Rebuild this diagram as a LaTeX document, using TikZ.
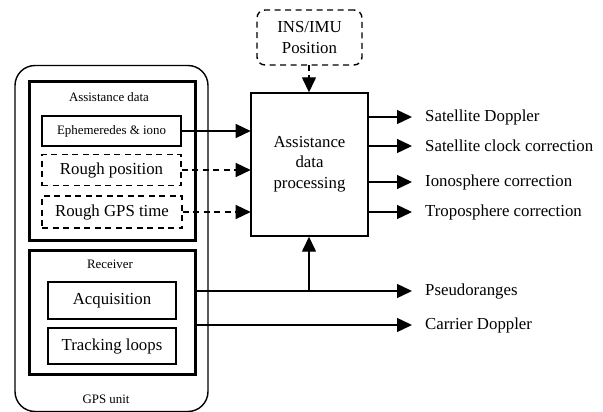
\documentclass[tikz,border=0pt]{standalone}
\usepackage{fontspec}
\setmainfont{Liberation Serif}
\usetikzlibrary{arrows.meta}
\tikzset{
  bigtxt/.style={font=\fontsize{16.8pt}{20.5pt}\selectfont},
  smalltxt/.style={font=\fontsize{12.9pt}{15pt}\selectfont},
  thin box/.style={draw, line width=1.4pt, inner sep=0pt},
  thick box/.style={draw, line width=3pt, inner sep=0pt},
  dash box/.style={draw, line width=1.4pt, dash pattern=on 6pt off 4.5pt, inner sep=0pt},
  conn/.style={line width=1.4pt, -{Triangle[length=15pt,width=14pt]}},
  dconn/.style={conn, dash pattern=on 6pt off 4.5pt},
  lbl/.style={bigtxt, anchor=west, inner sep=0pt},
}
\begin{document}
\begin{tikzpicture}[x=1pt,y=-1pt]
\useasboundingbox (0,0) rectangle (603,412);
% GPS unit outer
\node[draw, line width=1.4pt, rounded corners=20pt, minimum width=193pt, minimum height=346pt, inner sep=0pt] (gps) at (111.5,238.5) {};
\node[smalltxt] (gpslbl) at (106,399) {GPS unit};
% Assistance data group
\node[thick box, minimum width=166pt, minimum height=158pt] (adata) at (112,161) {};
\node[smalltxt] (adatalbl) at (109,97) {Assistance data};
\node[thin box, smalltxt, minimum width=139pt, minimum height=30pt] (eph) at (111.5,131) {Ephemeredes \& iono};
\node[dash box, bigtxt, minimum width=139pt, minimum height=31pt] (rpos) at (111.5,170) {Rough position};
\node[dash box, bigtxt, minimum width=140pt, minimum height=32pt] (rtime) at (112,212) {Rough GPS time};
% Receiver group
\node[thick box, minimum width=166pt, minimum height=124pt] (recv) at (112,312) {};
\node[smalltxt] (recvlbl) at (110,264) {Receiver};
\node[thin box, bigtxt, minimum width=128pt, minimum height=37pt] (acq) at (112,300.5) {Acquisition};
\node[thin box, bigtxt, minimum width=128pt, minimum height=36pt] (trk) at (112,346) {Tracking loops};
% Processing box
\node[thin box, minimum width=117pt, minimum height=143pt] (proc) at (309.5,164.5) {};
\node[bigtxt, align=center, inner sep=0pt] (proctxt) at (309.5,164) {Assistance\\data\\processing};
% INS/IMU
\node[dash box, rounded corners=8pt, bigtxt, align=center, minimum width=105pt, minimum height=55pt] (ins) at (309.5,37.5) {INS/IMU\\Position};
% inputs
\coordinate (pe) at (250.7,131);
\coordinate (pp) at (250.7,170);
\coordinate (pt) at (250.7,212);
\draw[conn] (eph.east) -- (pe);
\draw[dconn] (rpos.east) -- (pp);
\draw[dconn] (rtime.east) -- (pt);
\coordinate (insb) at (309,65);
\draw[dconn] (insb) -- (insb |- proc.north);
% outputs
\node[lbl] (o1) at (425,117) {Satellite Doppler};
\node[lbl] (o2) at (425,146) {Satellite clock correction};
\node[lbl] (o3) at (425,182) {Ionosphere correction};
\node[lbl] (o4) at (425,212) {Troposphere correction};
\coordinate (s1) at (368,117);
\coordinate (s2) at (368,146);
\coordinate (s3) at (368,182);
\coordinate (s4) at (368,212);
\coordinate (e1) at (412,117);
\coordinate (e2) at (412,146);
\coordinate (e3) at (412,182);
\coordinate (e4) at (412,212);
\draw[conn] (s1) -- (e1);
\draw[conn] (s2) -- (e2);
\draw[conn] (s3) -- (e3);
\draw[conn] (s4) -- (e4);
% receiver outputs
\node[lbl] (pr) at (425,291.5) {Pseudoranges};
\node[lbl] (cd) at (425,325.5) {Carrier Doppler};
\coordinate (r1) at (195,291);
\coordinate (r2) at (195,325);
\coordinate (q1) at (412,291);
\coordinate (q2) at (412,325);
\coordinate (jn) at (309,291);
\draw[conn] (r1) -- (q1);
\draw[conn] (r2) -- (q2);
\draw[conn] (jn) -- (jn |- proc.south);
\end{tikzpicture}
\end{document}
